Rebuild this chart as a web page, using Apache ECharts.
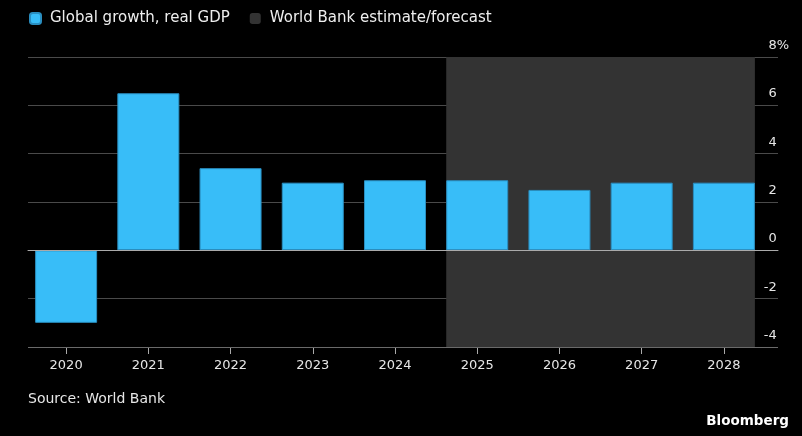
<!DOCTYPE html>
<html>
<head>
<meta charset="utf-8">
<script src="https://cdn.jsdelivr.net/npm/echarts@6/dist/echarts.min.js"></script>
<style>
  html, body { margin: 0; padding: 0; background: #000; }
  #chart { width: 802px; height: 436px; }
</style>
</head>
<body>
<div id="chart"></div>
<script>
const years = ['2020', '2021', '2022', '2023', '2024', '2025', '2026', '2027', '2028'];
const growth = [-3.0, 6.5, 3.4, 2.8, 2.9, 2.9, 2.5, 2.8, 2.8];
const forecastFrom = 5;   // index of 2025
const forecastTo = 8;     // index of 2028
const yTicks = [-4, -2, 0, 2, 4, 6, 8];

const FONT = 'DejaVu Sans';
const barPx = 62;
const plotW = 740;
const halfBar = barPx / 2 / (plotW / years.length);

const chart = echarts.init(document.getElementById('chart'));

const option = {
  backgroundColor: '#000',
  animation: false,
  textStyle: { fontFamily: FONT },
  title: [
    {
      text: 'Source: World Bank',
      left: 23, top: 387,
      textStyle: { color: '#e6e6e6', fontSize: 14, fontWeight: 'normal', fontFamily: FONT }
    },
    {
      text: 'Bloomberg',
      right: 8, top: 409,
      textStyle: { color: '#fff', fontSize: 13.5, fontWeight: 'bold', fontFamily: FONT }
    }
  ],
  legend: {
    left: 24, top: 6,
    icon: 'roundRect',
    itemWidth: 11, itemHeight: 11,
    itemGap: 20,
    textStyle: { color: '#eee', fontSize: 15, fontFamily: FONT, padding: [0, 0, 0, 4] },
    data: ['Global growth, real GDP', 'World Bank estimate/forecast']
  },
  grid: [
    { left: 25, right: 37, top: 57, bottom: 89 },
    { left: 28, right: 24, top: 57, bottom: 89 }
  ],
  xAxis: [
    {
      type: 'category', gridIndex: 0, data: years,
      axisLine: { show: false, onZero: false },
      axisTick: { show: true, alignWithLabel: true, length: 7, lineStyle: { color: '#aaa' } },
      axisLabel: { color: '#e6e6e6', fontSize: 13, margin: 12, fontFamily: FONT },
      splitLine: { show: false }
    },
    {
      type: 'value', gridIndex: 1, min: 0, max: 1, z: 5,
      axisLine: { show: true, onZero: true, onZeroAxisIndex: 1, lineStyle: { color: '#aaa', width: 1 } },
      axisTick: { show: false }, axisLabel: { show: false }, splitLine: { show: false }
    },
    {
      type: 'value', gridIndex: 0, min: -0.5, max: years.length - 0.5, show: false
    }
  ],
  yAxis: [
    {
      type: 'value', gridIndex: 0, min: -4, max: 8, interval: 2,
      axisLine: { show: false }, axisTick: { show: false },
      axisLabel: { show: false }, splitLine: { show: false }
    },
    {
      type: 'value', gridIndex: 1, position: 'right', min: -4, max: 8, interval: 2, z: 1,
      axisLine: { show: false }, axisTick: { show: false },
      splitLine: {
        show: true,
        lineStyle: { color: yTicks.map(v => v === -4 ? '#6a6a6a' : '#4a4a4a'), width: 1 }
      },
      axisLabel: {
        inside: true, margin: -11,
        verticalAlign: 'bottom', padding: [0, 0, 5, 0],
        formatter: v => '{n|' + v + '}' + (v === 8 ? '{p|%}' : '{h|%}'),
        rich: {
          n: { color: '#e6e6e6', fontSize: 13, fontFamily: FONT },
          p: { color: '#e6e6e6', fontSize: 13, fontFamily: FONT },
          h: { color: 'rgba(0,0,0,0)', fontSize: 13, fontFamily: FONT }
        }
      }
    }
  ],
  series: [
    {
      name: 'World Bank estimate/forecast',
      type: 'line', xAxisIndex: 2, yAxisIndex: 0, z: 0,
      data: [],
      itemStyle: { color: '#333' },
      markArea: {
        silent: true,
        itemStyle: { color: '#333' },
        data: [[{ xAxis: forecastFrom - halfBar }, { xAxis: forecastTo + halfBar }]]
      }
    },
    {
      name: 'Global growth, real GDP',
      type: 'bar', xAxisIndex: 0, yAxisIndex: 0, z: 2,
      barWidth: barPx,
      data: growth,
      itemStyle: { color: '#38bdf8', borderColor: '#2a8ec0', borderWidth: 1 }
    }
  ]
};

chart.setOption(option);
</script>
</body>
</html>
